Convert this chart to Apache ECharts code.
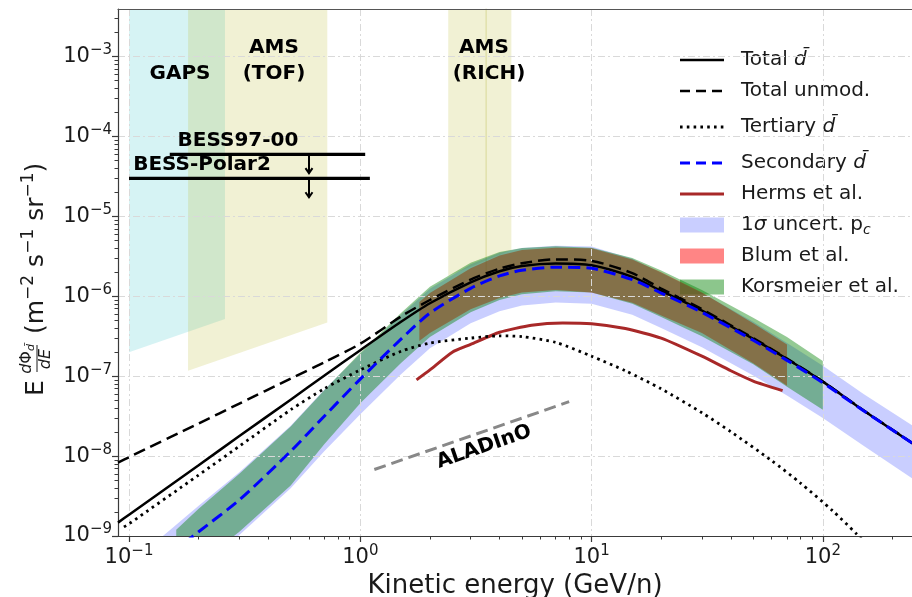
<!DOCTYPE html>
<html>
<head>
<meta charset="utf-8">
<script src="https://cdn.jsdelivr.net/npm/echarts@6/dist/echarts.min.js"></script>
<style>
  html, body { margin: 0; padding: 0; background: #ffffff; }
  #chart { width: 912px; height: 597px; }
</style>
</head>
<body>
<div id="chart"></div>
<script>
// Antideuteron flux E dPhi/dE [m^-2 s^-1 sr^-1] versus kinetic energy per nucleon [GeV/n]

// total antideuteron flux (modulated)
const totalE = [0.0896, 0.1, 0.2, 0.3, 0.5, 0.7, 1, 1.5, 2, 3, 4, 5, 7, 10, 15, 20, 30, 50, 70, 100, 150, 250];
const totalFlux = [1.47e-9, 1.85e-9, 7.7e-9, 1.78e-8, 5.09e-8, 1.02e-7, 2.12e-7, 4.8e-7, 8.2e-7, 1.5e-6, 2.06e-6, 2.4e-6, 2.58e-6, 2.45e-6, 1.75e-6, 1.17e-6, 6.65e-7, 2.93e-7, 1.64e-7, 8.55e-8, 3.72e-8, 1.38e-8];
// total flux without solar modulation
const totalUnmodFlux = [8.3e-9, 9.7e-9, 2.56e-8, 4.55e-8, 9.35e-8, 1.5e-7, 2.55e-7, 5.6e-7, 9.0e-7, 1.62e-6, 2.22e-6, 2.6e-6, 2.9e-6, 2.78e-6, 1.95e-6, 1.25e-6, 6.9e-7, 3.0e-7, 1.66e-7, 8.6e-8, 3.75e-8, 1.39e-8];

// tertiary component
const tertiaryE = [0.095, 0.1, 0.2, 0.3, 0.5, 0.7, 1, 1.5, 2, 3, 4, 5, 7, 10, 14, 20, 30, 40, 60, 80, 110, 140, 170];
const tertiaryFlux = [1.3e-9, 1.42e-9, 5.8e-9, 1.33e-8, 3.8e-8, 7.0e-8, 1.2e-7, 2.05e-7, 2.6e-7, 3.0e-7, 3.2e-7, 3.13e-7, 2.65e-7, 1.78e-7, 1.17e-7, 6.95e-8, 3.49e-8, 2.02e-8, 8.8e-9, 4.6e-9, 2.08e-9, 1.06e-9, 5.9e-10];

// secondary component
const secondaryE = [0.15, 0.2, 0.3, 0.5, 0.7, 1, 1.5, 2, 3, 4, 5, 7, 10, 15, 20, 30, 50, 70, 100, 150, 250];
const secondaryFlux = [5.9e-10, 1.13e-9, 2.83e-9, 1.15e-8, 3.18e-8, 9.2e-8, 2.91e-7, 6.17e-7, 1.26e-6, 1.8e-6, 2.12e-6, 2.32e-6, 2.24e-6, 1.62e-6, 1.1e-6, 6.3e-7, 2.82e-7, 1.58e-7, 8.3e-8, 3.7e-8, 1.38e-8];

// 1 sigma uncertainty from the coalescence momentum
const uncertE = [0.12, 0.15, 0.2, 0.3, 0.5, 0.7, 1, 1.5, 2, 3, 4, 5, 7, 10, 15, 20, 30, 50, 70, 100, 150, 250];
const uncertHigh = [6.9e-10, 1.18e-9, 2.4e-9, 6.3e-9, 2.4e-8, 6.8e-8, 1.9e-7, 5.9e-7, 1.24e-6, 2.52e-6, 3.5e-6, 4.04e-6, 4.3e-6, 4.2e-6, 2.95e-6, 1.96e-6, 1.1e-6, 4.8e-7, 2.6e-7, 1.35e-7, 6.0e-8, 2.3e-8];
const uncertLow = [1.28e-10, 2.1e-10, 4.1e-10, 1.03e-9, 3.95e-9, 1.16e-8, 3.35e-8, 1.06e-7, 2.24e-7, 4.6e-7, 6.5e-7, 7.7e-7, 8.4e-7, 8.1e-7, 5.9e-7, 4.0e-7, 2.3e-7, 1.02e-7, 5.75e-8, 3.0e-8, 1.35e-8, 5.0e-9];

// Korsmeier et al. band
const korsE = [0.16, 0.2, 0.3, 0.5, 0.7, 1, 1.5, 2, 3, 4, 5, 7, 10, 15, 20, 30, 50, 70, 100];
const korsHigh = [1.2e-9, 2.2e-9, 6.0e-9, 2.35e-8, 6.7e-8, 1.96e-7, 6.2e-7, 1.32e-6, 2.64e-6, 3.6e-6, 4.04e-6, 4.23e-6, 4.07e-6, 3.02e-6, 2.1e-6, 1.2e-6, 5.4e-7, 3.1e-7, 1.55e-7];
const korsLow = [2.7e-10, 4.5e-10, 1.13e-9, 4.3e-9, 1.42e-8, 4.6e-8, 1.46e-7, 3.1e-7, 6.3e-7, 9.0e-7, 1.06e-6, 1.16e-6, 1.12e-6, 8.1e-7, 5.5e-7, 3.16e-7, 1.41e-7, 7.4e-8, 3.8e-8];

// Blum et al. band
const blumE = [1.8, 2, 3, 4, 5, 7, 10, 15, 20, 30, 50, 70];
const blumHigh = [8.5e-7, 1.1e-6, 2.24e-6, 3.24e-6, 3.8e-6, 4.07e-6, 4.0e-6, 2.9e-6, 2.0e-6, 1.12e-6, 4.6e-7, 2.5e-7];
const blumLow = [2.75e-7, 3.47e-7, 6.9e-7, 9.5e-7, 1.12e-6, 1.2e-6, 1.12e-6, 8.3e-7, 5.75e-7, 3.47e-7, 1.45e-7, 7.6e-8];

// Herms et al. prediction
const hermsE = [1.75, 2, 2.5, 3, 4, 5.5, 7.5, 10, 14, 20, 30, 40, 50, 67];
const hermsFlux = [9.0e-8, 1.2e-7, 2.0e-7, 2.5e-7, 3.55e-7, 4.35e-7, 4.65e-7, 4.55e-7, 3.95e-7, 3.0e-7, 1.78e-7, 1.17e-7, 8.7e-8, 6.6e-8];

// experimental sensitivity regions (open towards the top)
const regionTop = 1e-2;
const gapsE = [0.1, 0.26];
const gapsFloor = [2.0e-7, 5.2e-7];
const amsTofE = [0.18, 0.72];
const amsTofFloor = [1.17e-7, 4.7e-7];
const amsRichE = [2.4, 4.5];
const amsRichFloor = [1.8e-6, 3.8e-6];
const amsRichSplitE = 3.5;

// BESS upper limits
const bess97E = [0.15, 1.05];
const bess97Limit = 6e-5;
const bessPolarE = [0.1, 1.1];
const bessPolarLimit = 3e-5;
const limitArrowE = 0.6;
const limitArrowDrop = 0.58;

// ALADInO projected sensitivity
const aladinoE = [1.15, 8.0];
const aladinoFlux = [6.8e-9, 4.8e-8];

// axis ticks
const xMajor = [0.1, 1, 10, 100];
const yMajor = [1e-9, 1e-8, 1e-7, 1e-6, 1e-5, 1e-4, 1e-3];
const xMinor = [0.2, 0.3, 0.4, 0.5, 0.6, 0.7, 0.8, 0.9, 2, 3, 4, 5, 6, 7, 8, 9, 20, 30, 40, 50, 60, 70, 80, 90, 200];
const yMinor = [];
[-9, -8, -7, -6, -5, -4, -3].forEach(function (p) {
  for (let m = 2; m <= 9; m++) yMinor.push(m * Math.pow(10, p));
});

const X_MIN = 0.0896, X_MAX = 243;
const Y_MIN = 1e-9, Y_MAX = 3.95e-3;
const FONT = 'DejaVu Sans';

const zip = (xs, ys) => xs.map((x, i) => [x, ys[i]]);

function powLabel(v) {
  const p = Math.round(Math.log10(v));
  if (Math.abs(Math.log10(v) - p) > 1e-6) return '';
  return '{b|10}{s|' + (p < 0 ? '\u2212' + (-p) : p) + '}';
}
const labelRich = {
  b: { fontSize: 21, fontFamily: FONT, color: '#1a1a1a' },
  s: { fontSize: 15, fontFamily: FONT, color: '#1a1a1a', padding: [0, 0, 13, 0] }
};

function bandSeries(name, E, hi, lo, fill, z) {
  return {
    type: 'custom', name: name, coordinateSystem: 'cartesian2d',
    xAxisIndex: 0, yAxisIndex: 0, clip: true, silent: true, z: z,
    data: [[E[0], hi[0]]],
    renderItem: function (params, api) {
      const pts = [];
      for (let i = 0; i < E.length; i++) pts.push(api.coord([E[i], hi[i]]));
      for (let i = E.length - 1; i >= 0; i--) pts.push(api.coord([E[i], lo[i]]));
      return { type: 'polygon', shape: { points: pts }, style: { fill: fill } };
    }
  };
}

function regionSeries(name, E, floor, fill) {
  return {
    type: 'custom', name: name, coordinateSystem: 'cartesian2d',
    xAxisIndex: 0, yAxisIndex: 0, clip: true, silent: true, z: 0.5,
    data: [[E[0], floor[0]]],
    renderItem: function (params, api) {
      const pts = [
        api.coord([E[0], regionTop]),
        api.coord([E[E.length - 1], regionTop])
      ];
      for (let i = E.length - 1; i >= 0; i--) pts.push(api.coord([E[i], floor[i]]));
      return { type: 'polygon', shape: { points: pts }, style: { fill: fill } };
    }
  };
}

function lineSeries(name, E, F, color, width, dash, smooth, z) {
  return {
    type: 'line', name: name, data: zip(E, F), showSymbol: false, symbol: 'none',
    smooth: smooth, clip: true, silent: true, z: z || 3,
    lineStyle: { color: color, width: width, type: dash || 'solid', cap: 'butt' }
  };
}

const series = [
  regionSeries('GAPS', gapsE, gapsFloor, 'rgba(0,178,184,0.16)'),
  regionSeries('AMS (TOF)', amsTofE, amsTofFloor, 'rgba(185,185,40,0.20)'),
  regionSeries('AMS (RICH)', amsRichE, amsRichFloor, 'rgba(185,185,40,0.20)'),
  {
    type: 'line', name: 'AMS (RICH) split', silent: true, symbol: 'none', z: 0.6, clip: true,
    data: [[amsRichSplitE, regionTop], [amsRichSplitE, amsRichFloor[0]]],
    lineStyle: { color: 'rgba(170,170,40,0.35)', width: 1 }
  },
  bandSeries('1\u03c3 uncert. pc', uncertE, uncertHigh, uncertLow, 'rgba(40,60,255,0.25)', 1),
  bandSeries('Blum et al.', blumE, blumHigh, blumLow, 'rgba(255,0,0,0.50)', 1.1),
  bandSeries('Korsmeier et al.', korsE, korsHigh, korsLow, 'rgba(0,128,0,0.42)', 1.2),
  lineSeries('Herms et al.', hermsE, hermsFlux, '#a82828', 3, 'solid', 0.2),
  lineSeries('Tertiary', tertiaryE, tertiaryFlux, '#000000', 2.8, [2.6, 4.2], 0.25),
  lineSeries('Total unmod.', totalE, totalUnmodFlux, '#000000', 2.5, [12, 6], 0.25),
  lineSeries('Total', totalE, totalFlux, '#000000', 2.5, 'solid', 0.25),
  lineSeries('Secondary', secondaryE, secondaryFlux, '#0000ff', 3, [12, 6], 0.25, 3.5),
  lineSeries('ALADInO', aladinoE, aladinoFlux, '#888888', 3, [12, 6], false),
  lineSeries('BESS97-00', bess97E, [bess97Limit, bess97Limit], '#000000', 3.2, 'solid', false),
  lineSeries('BESS-Polar2', bessPolarE, [bessPolarLimit, bessPolarLimit], '#000000', 3.2, 'solid', false),
  {
    type: 'custom', name: 'upper-limit arrows', coordinateSystem: 'cartesian2d', silent: true, z: 4,
    data: [[limitArrowE, bess97Limit], [limitArrowE, bessPolarLimit]],
    renderItem: function (params, api) {
      const v = api.value(1);
      const a = api.coord([api.value(0), v]);
      const b = api.coord([api.value(0), v * limitArrowDrop]);
      return {
        type: 'group', children: [
          { type: 'line', shape: { x1: a[0], y1: a[1], x2: b[0], y2: b[1] }, style: { stroke: '#000', lineWidth: 2 } },
          { type: 'polyline', shape: { points: [[b[0] - 3.5, b[1] - 5], [b[0], b[1]], [b[0] + 3.5, b[1] - 5]] }, style: { stroke: '#000', lineWidth: 2, fill: null } }
        ]
      };
    }
  }
];

const axisColor = '#3a3a3a';
const chart = echarts.init(document.getElementById('chart'), null, { renderer: 'canvas' });

// legend entries drawn as graphic rows
const legendX = 680, legendTextX = 741;
const legendRows = [
  { y: 60, type: 'line', color: '#000', width: 2.5, dash: null, text: 'Total {i|d\u0304}' },
  { y: 91, type: 'line', color: '#000', width: 2.5, dash: [10, 6], text: 'Total unmod.' },
  { y: 127, type: 'line', color: '#000', width: 2.8, dash: [2.6, 4.2], text: 'Tertiary {i|d\u0304}' },
  { y: 163, type: 'line', color: '#0000ff', width: 3, dash: [10, 6], text: 'Secondary {i|d\u0304}' },
  { y: 194, type: 'line', color: '#a82828', width: 3, dash: null, text: 'Herms et al.' },
  { y: 225, type: 'rect', color: 'rgba(40,60,255,0.25)', text: '1{i|\u03c3} uncert. p{sub|c}' },
  { y: 256, type: 'rect', color: 'rgba(255,0,0,0.48)', text: 'Blum et al.' },
  { y: 287, type: 'rect', color: 'rgba(0,128,0,0.45)', text: 'Korsmeier et al.' }
];
const legendRich = {
  i: { fontSize: 20, fontFamily: FONT, fontStyle: 'italic', fill: '#1a1a1a' },
  sub: { fontSize: 14, fontFamily: FONT, fontStyle: 'italic', fill: '#1a1a1a', padding: [10, 0, 0, 0] }
};
const legendChildren = [];
legendRows.forEach(function (r) {
  if (r.type === 'line') {
    legendChildren.push({
      type: 'line', shape: { x1: legendX, y1: r.y, x2: legendX + 44, y2: r.y },
      style: { stroke: r.color, lineWidth: r.width, lineDash: r.dash }
    });
  } else {
    legendChildren.push({
      type: 'rect', shape: { x: legendX, y: r.y - 7.5, width: 44, height: 15 },
      style: { fill: r.color }
    });
  }
  legendChildren.push({
    type: 'text', x: legendTextX, y: r.y,
    style: { text: r.text, fontSize: 20, fontFamily: FONT, fill: '#1a1a1a', verticalAlign: 'middle', align: 'left', rich: legendRich }
  });
});

function boldText(text, x, y, rot) {
  return {
    type: 'text', x: x, y: y, rotation: rot || 0, z: 10,
    style: { text: text, fontSize: 20, fontWeight: 'bold', fontFamily: FONT, fill: '#000', align: 'center', verticalAlign: 'middle' }
  };
}

const yTitle = {
  type: 'group', x: 36, y: 396, rotation: Math.PI / 2, z: 10,
  children: [
    { type: 'text', x: 0, y: 0, style: { text: 'E', fontSize: 25, fontFamily: FONT, fill: '#1a1a1a', verticalAlign: 'middle', align: 'left' } },
    { type: 'text', x: 37, y: -9, style: {
        text: '{i|d}\u03a6{sub|d\u0304}', fontSize: 16, fontFamily: FONT, fill: '#1a1a1a', align: 'center', verticalAlign: 'middle',
        rich: { i: { fontSize: 16, fontStyle: 'italic', fontFamily: FONT, fill: '#1a1a1a' }, sub: { fontSize: 11, fontStyle: 'italic', fontFamily: FONT, fill: '#1a1a1a', padding: [8, 0, 0, 0] } } } },
    { type: 'line', shape: { x1: 24, y1: 1, x2: 51, y2: 1 }, style: { stroke: '#1a1a1a', lineWidth: 1 } },
    { type: 'text', x: 37, y: 10, style: { text: 'dE', fontSize: 16, fontStyle: 'italic', fontFamily: FONT, fill: '#1a1a1a', align: 'center', verticalAlign: 'middle' } },
    { type: 'text', x: 62, y: 0, style: {
        text: '(m{s|\u22122} s{s|\u22121} sr{s|\u22121})', fontSize: 25, fontFamily: FONT, fill: '#1a1a1a', verticalAlign: 'middle', align: 'left',
        rich: { s: { fontSize: 17, fontFamily: FONT, fill: '#1a1a1a', padding: [0, 0, 14, 0] } } } }
  ]
};

const option = {
  animation: false,
  backgroundColor: '#ffffff',
  grid: { left: 118, right: 0, top: 9, bottom: 61, containLabel: false, outerBoundsMode: 'none' },
  xAxis: [
    {
      type: 'log', logBase: 10, min: X_MIN, max: X_MAX, position: 'bottom', z: 2,
      axisLine: { show: true, lineStyle: { color: axisColor, width: 1.2 } },
      axisTick: { show: true, length: 6, inside: false, customValues: xMajor, lineStyle: { color: axisColor, width: 1.2 } },
      axisLabel: { show: true, customValues: xMajor, formatter: powLabel, rich: labelRich, margin: 8, color: '#1a1a1a' },
      splitLine: { show: true, lineStyle: { color: '#d9d9d9', width: 1, type: [7, 3, 2, 3] } },
      name: 'Kinetic energy (GeV/n)', nameLocation: 'middle', nameGap: 36,
      nameTextStyle: { fontSize: 26, fontFamily: FONT, color: '#1a1a1a' }
    },
    {
      type: 'log', logBase: 10, min: X_MIN, max: X_MAX, position: 'bottom', z: 2,
      axisLine: { show: false },
      axisTick: { show: true, length: 3.5, customValues: xMinor, lineStyle: { color: axisColor, width: 1 } },
      axisLabel: { show: false }, splitLine: { show: false }
    },
    {
      type: 'log', logBase: 10, min: X_MIN, max: X_MAX, position: 'top', z: 2,
      axisLine: { show: true, lineStyle: { color: '#555', width: 1.2 } },
      axisTick: { show: false }, axisLabel: { show: false }, splitLine: { show: false }
    }
  ],
  yAxis: [
    {
      type: 'log', logBase: 10, min: Y_MIN, max: Y_MAX, position: 'left', z: 2,
      axisLine: { show: true, lineStyle: { color: axisColor, width: 1.2 } },
      axisTick: { show: true, length: 6, customValues: yMajor, lineStyle: { color: axisColor, width: 1.2 } },
      axisLabel: { show: true, customValues: yMajor, formatter: powLabel, rich: labelRich, margin: 6, color: '#1a1a1a' },
      splitLine: { show: true, lineStyle: { color: '#d9d9d9', width: 1, type: [7, 3, 2, 3] } }
    },
    {
      type: 'log', logBase: 10, min: Y_MIN, max: Y_MAX, position: 'left', z: 2,
      axisLine: { show: false },
      axisTick: { show: true, length: 3.5, customValues: yMinor, lineStyle: { color: axisColor, width: 1 } },
      axisLabel: { show: false }, splitLine: { show: false }
    }
  ],
  series: series,
  graphic: [
    { type: 'group', z: 10, children: legendChildren },
    boldText('GAPS', 180, 74),
    boldText('AMS', 274, 48),
    boldText('(TOF)', 274, 74),
    boldText('AMS', 484, 48),
    boldText('(RICH)', 489, 74),
    boldText('BESS97-00', 238, 141),
    boldText('BESS-Polar2', 202, 165),
    boldText('ALADInO', 484, 447, 19 * Math.PI / 180),
    yTitle
  ]
};
chart.setOption(option);
</script>
</body>
</html>
